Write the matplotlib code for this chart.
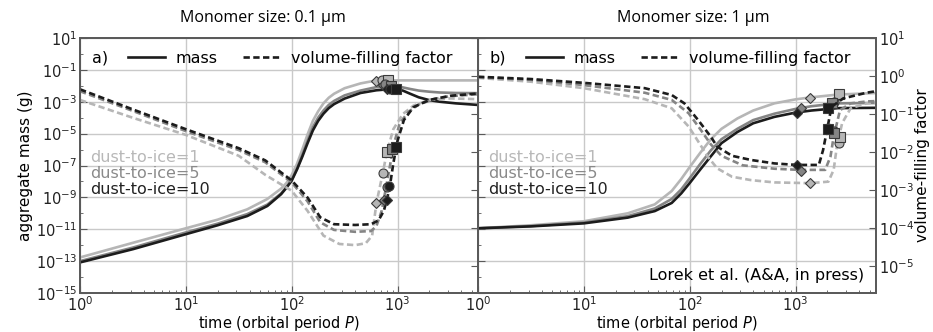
import matplotlib
matplotlib.use("Agg")
import matplotlib.pyplot as plt
import numpy as np
from matplotlib.lines import Line2D
from matplotlib.ticker import FixedLocator, NullFormatter, NullLocator

# --------------------------------------------------------------------------- #
# Data (log10 values)
# --------------------------------------------------------------------------- #
RATIOS = ["dust-to-ice=1", "dust-to-ice=5", "dust-to-ice=10"]
COLORS = ["#b6b6b6", "#858585", "#1c1c1c"]
TEXT_COLORS = ["#b8b8b8", "#8a8a8a", "#222222"]

# panel a) monomer size 0.1 um -- aggregate mass
a_mass_t = [0, 0.5, 1.0, 1.3, 1.58, 1.77, 1.9, 1.95, 2.0, 2.05, 2.1, 2.15, 2.2, 2.25,
            2.3, 2.35, 2.4, 2.5, 2.65, 2.8, 2.95, 3.05, 3.12, 3.2, 3.3, 3.4, 3.55, 3.76]
a_mass = {
    "dust-to-ice=1":  [-12.77, -11.85, -10.94, -10.4, -9.75, -9.1, -8.45, -8.1, -7.6, -6.9,
                       -6.0, -5.05, -4.2, -3.6, -3.1, -2.75, -2.5, -2.15, -1.85, -1.66,
                       -1.66, -1.66, -1.66, -1.66, -1.66, -1.66, -1.66, -1.66],
    "dust-to-ice=5":  [-13.0, -12.15, -11.2, -10.65, -10.05, -9.45, -8.75, -8.35, -7.9, -7.2,
                       -6.35, -5.45, -4.6, -4.0, -3.55, -3.2, -2.95, -2.6, -2.3, -2.08,
                       -2.03, -2.1, -2.2, -2.3, -2.37, -2.42, -2.45, -2.46],
    "dust-to-ice=10": [-13.08, -12.25, -11.31, -10.75, -10.17, -9.54, -8.8, -8.4, -7.95, -7.25,
                       -6.45, -5.6, -4.8, -4.2, -3.75, -3.4, -3.15, -2.8, -2.45, -2.28,
                       -2.2, -2.3, -2.5, -2.72, -2.9, -3.0, -3.1, -3.2],
}
# panel a) volume-filling factor
a_phi_t = {
    "dust-to-ice=1":  [0, 0.5, 1.0, 1.5, 1.75, 2.0, 2.15, 2.3, 2.45, 2.6, 2.7, 2.76, 2.8,
                       2.86, 2.9, 2.96, 3.05, 3.15, 3.3, 3.5, 3.76],
    "dust-to-ice=5":  [0, 0.5, 1.0, 1.5, 1.75, 2.0, 2.15, 2.27, 2.4, 2.6, 2.75, 2.8, 2.85,
                       2.88, 2.92, 2.96, 3.02, 3.1, 3.2, 3.35, 3.5, 3.76],
    "dust-to-ice=10": [0, 0.5, 1.0, 1.5, 1.75, 2.0, 2.15, 2.27, 2.4, 2.6, 2.75, 2.82, 2.87,
                       2.9, 2.93, 2.96, 3.0, 3.06, 3.15, 3.3, 3.5, 3.76],
}
a_phi = {
    "dust-to-ice=1":  [-0.63, -1.1, -1.55, -2.1, -2.6, -3.02, -3.55, -4.2, -4.42, -4.45, -4.4,
                       -4.2, -3.35, -2.56, -1.99, -1.4, -1.0, -0.78, -0.63, -0.59, -0.61],
    "dust-to-ice=5":  [-0.4, -0.92, -1.45, -1.95, -2.27, -2.8, -3.3, -3.85, -4.05, -4.1, -4.08,
                       -3.95, -3.55, -3.1, -2.5, -1.85, -1.25, -0.95, -0.75, -0.6, -0.53, -0.48],
    "dust-to-ice=10": [-0.35, -0.88, -1.4, -1.9, -2.22, -2.75, -3.2, -3.72, -3.9, -3.92, -3.9,
                       -3.8, -3.55, -3.25, -2.85, -2.3, -1.7, -1.16, -0.82, -0.63, -0.52, -0.46],
}

# panel b) monomer size 1 um -- aggregate mass
b_mass_t = [0, 0.5, 1.0, 1.415, 1.67, 1.83, 1.92, 2.0, 2.1, 2.2, 2.3, 2.45, 2.6, 2.8,
            3.0, 3.15, 3.4, 3.76]
b_mass = {
    "dust-to-ice=1":  [-10.94, -10.75, -10.5, -10.0, -9.44, -8.6, -7.85, -7.1, -6.2, -5.35,
                       -4.7, -4.05, -3.55, -3.1, -2.85, -2.72, -2.55, -2.45],
    "dust-to-ice=5":  [-10.94, -10.8, -10.58, -10.18, -9.7, -9.1, -8.5, -7.8, -6.9, -6.05,
                       -5.35, -4.7, -4.15, -3.75, -3.45, -3.28, -3.1, -3.08],
    "dust-to-ice=10": [-10.94, -10.82, -10.63, -10.27, -9.86, -9.35, -8.75, -8.1, -7.25, -6.42,
                       -5.6, -4.9, -4.35, -3.95, -3.68, -3.55, -3.4, -3.38],
}
# panel b) volume-filling factor
b_phi_t = {
    "dust-to-ice=1":  [0, 0.5, 1.0, 1.575, 1.83, 1.99, 2.08, 2.17, 2.26, 2.4, 2.58, 2.8, 3.14,
                       3.31, 3.36, 3.39, 3.44, 3.52, 3.67, 3.76],
    "dust-to-ice=5":  [0, 0.5, 1.0, 1.575, 1.83, 1.99, 2.1, 2.2, 2.3, 2.5, 2.8, 3.04, 3.28,
                       3.33, 3.36, 3.42, 3.52, 3.67, 3.76],
    "dust-to-ice=10": [0, 0.5, 1.0, 1.575, 1.83, 1.95, 2.08, 2.2, 2.26, 2.4, 2.58, 2.8, 3.01,
                       3.22, 3.26, 3.3, 3.34, 3.45, 3.67, 3.76],
}
b_phi = {
    "dust-to-ice=1":  [-0.05, -0.15, -0.32, -0.61, -0.85, -1.33, -1.72, -2.12, -2.43, -2.65,
                       -2.74, -2.8, -2.82, -2.78, -2.47, -1.86, -1.24, -0.85, -0.72, -0.7],
    "dust-to-ice=5":  [-0.03, -0.1, -0.24, -0.44, -0.63, -0.98, -1.4, -1.8, -2.1, -2.35,
                       -2.44, -2.47, -2.47, -2.12, -1.6, -0.9, -0.72, -0.67, -0.66],
    "dust-to-ice=10": [-0.02, -0.08, -0.18, -0.32, -0.5, -0.72, -1.16, -1.6, -1.86, -2.1,
                       -2.21, -2.3, -2.34, -2.34, -1.95, -1.38, -0.81, -0.59, -0.44, -0.4],
}

# markers (log t, log value): diamond, circle, square per dust-to-ice ratio
MARKERS = ["D", "o", "s"]
a_mark_mass_t = {"dust-to-ice=1": [2.80, 2.85, 2.91], "dust-to-ice=5": [2.86, 2.88, 2.94],
                 "dust-to-ice=10": [2.90, 2.93, 2.99]}
a_mark_mass = {"dust-to-ice=1": [-1.67, -1.66, -1.66], "dust-to-ice=5": [-1.95, -1.9, -2.0],
               "dust-to-ice=10": [-2.2, -2.22, -2.22]}
a_mark_phi_t = {"dust-to-ice=1": [2.80, 2.86, 2.90], "dust-to-ice=5": [2.87, 2.90, 2.95],
                "dust-to-ice=10": [2.90, 2.92, 2.99]}
a_mark_phi = {"dust-to-ice=1": [-3.35, -2.56, -1.99], "dust-to-ice=5": [-3.26, -2.91, -1.93],
              "dust-to-ice=10": [-3.25, -2.89, -1.88]}
b_mark_mass_t = {"dust-to-ice=1": [3.14, 3.41, 3.41], "dust-to-ice=5": [3.05, 3.36, 3.34],
                 "dust-to-ice=10": [3.01, 3.31, 3.31]}
b_mark_mass = {"dust-to-ice=1": [-2.77, -2.55, -2.5], "dust-to-ice=5": [-3.4, -3.04, -3.08],
               "dust-to-ice=10": [-3.7, -3.4, -3.4]}
b_mark_phi_t = {"dust-to-ice=1": [3.14, 3.41, 3.42], "dust-to-ice=5": [3.05, 3.36, 3.36],
                "dust-to-ice=10": [3.01, 3.31, 3.31]}
b_mark_phi = {"dust-to-ice=1": [-2.82, -1.77, -1.6], "dust-to-ice=5": [-2.49, -1.45, -1.5],
              "dust-to-ice=10": [-2.34, -1.38, -1.4]}

MASS_TICKS = list(range(1, -16, -2))
PHI_TICKS = list(range(1, -6, -1))
XMAX_LOG = 3.76
PHI_MIN_LOG = -5.71

plt.rcParams["font.family"] = ["DejaVu Sans"]
plt.rcParams["mathtext.fontset"] = "dejavusans"

fig = plt.figure(figsize=(9.33, 3.32), dpi=100)
ax_a = fig.add_axes([80 / 933, 1 - 293 / 332, 398 / 933, 255 / 332])
ax_b = fig.add_axes([478 / 933, 1 - 293 / 332, 398 / 933, 255 / 332])

SPINE = "#5a5a5a"
DASH = (0, (2.4, 1.3))


def style_axes(ax, phi_ax, show_mass_labels, show_phi_labels, tag, mass, mass_t, phi_t, phi,
               mt, mv, pt, pv):
    ax.set_xscale("log")
    ax.set_yscale("log")
    phi_ax.set_yscale("log")
    ax.set_xlim(1, 10 ** XMAX_LOG)
    ax.set_ylim(1e-15, 1e1)
    phi_ax.set_ylim(10 ** PHI_MIN_LOG, 1e1)

    ax.yaxis.set_major_locator(FixedLocator([10.0 ** e for e in MASS_TICKS]))
    ax.yaxis.set_minor_locator(FixedLocator([10.0 ** e for e in range(0, -15, -2)]))
    ax.yaxis.set_minor_formatter(NullFormatter())
    phi_ax.yaxis.set_major_locator(FixedLocator([10.0 ** e for e in PHI_TICKS]))
    phi_ax.yaxis.set_minor_locator(NullLocator())
    ax.xaxis.set_major_locator(FixedLocator([1, 10, 100, 1000]))

    if not show_mass_labels:
        ax.yaxis.set_major_formatter(NullFormatter())
    if not show_phi_labels:
        phi_ax.yaxis.set_major_formatter(NullFormatter())

    ax.grid(True, which="major", color="#c9c9c9", linewidth=1.0)
    for a in (ax, phi_ax):
        for s in a.spines.values():
            s.set_color(SPINE)
            s.set_linewidth(1.3)
        a.tick_params(which="both", direction="in", colors=SPINE, labelcolor="#222222",
                      labelsize=10.5, pad=2)
        a.tick_params(which="major", length=5)
        a.tick_params(which="minor", length=2.5)
    ax.tick_params(axis="x", pad=1.5)

    for name, c in zip(RATIOS, COLORS):
        ax.plot(10 ** np.array(mass_t), 10 ** np.array(mass[name]), color=c, lw=1.9,
                solid_capstyle="round", solid_joinstyle="round")
        phi_ax.plot(10 ** np.array(phi_t[name]), 10 ** np.array(phi[name]), color=c, lw=1.9,
                    ls=DASH)
    for name, c in zip(RATIOS, COLORS):
        for m, x, y in zip(MARKERS, mt[name], mv[name]):
            ax.plot(10 ** x, 10 ** y, marker=m, ms=6.5 if m != "D" else 5.5, color=c,
                    mec="#3a3a3a", mew=0.8, zorder=5)
        for m, x, y in zip(MARKERS, pt[name], pv[name]):
            phi_ax.plot(10 ** x, 10 ** y, marker=m, ms=6.5 if m != "D" else 5.5, color=c,
                        mec="#3a3a3a", mew=0.8, zorder=5)

    ax.set_xlabel("time (orbital period $P$)", fontsize=10.5, labelpad=0)

    ax.text(0.03, 0.92, tag, transform=ax.transAxes, fontsize=11.5, va="center")
    handles = [Line2D([], [], color="#1c1c1c", lw=1.9),
               Line2D([], [], color="#1c1c1c", lw=1.9, ls=DASH)]
    phi_ax.legend(handles, ["mass", "volume-filling factor"], loc="center left",
                  bbox_to_anchor=(0.1, 0.92), ncol=2, frameon=False, fontsize=11.5,
                  handlelength=2.3, columnspacing=1.6, handletextpad=0.7, borderpad=0)
    for i, (name, c) in enumerate(zip(RATIOS, TEXT_COLORS)):
        ax.text(0.025, 0.53 - i * 0.062, name, transform=ax.transAxes, color=c,
                fontsize=11.5, va="center")


ax_a2 = ax_a.twinx()
ax_b2 = ax_b.twinx()
style_axes(ax_a, ax_a2, True, False, "a)", a_mass, a_mass_t, a_phi_t, a_phi,
           a_mark_mass_t, a_mark_mass, a_mark_phi_t, a_mark_phi)
style_axes(ax_b, ax_b2, False, True, "b)", b_mass, b_mass_t, b_phi_t, b_phi,
           b_mark_mass_t, b_mark_mass, b_mark_phi_t, b_mark_phi)

ax_a.set_ylabel("aggregate mass (g)", fontsize=11, labelpad=2)
ax_b2.set_ylabel("volume-filling factor", fontsize=11, labelpad=1)

ax_b.text(0.97, 0.07, "Lorek et al. (A&A, in press)", transform=ax_b.transAxes,
          ha="right", va="center", fontsize=11.5)

fig.text(263 / 933, 1 - 18 / 332, "Monomer size: 0.1 μm", ha="center", va="center",
         fontsize=11.5, family=["Open Sans", "DejaVu Sans"])
fig.text(693 / 933, 1 - 18 / 332, "Monomer size: 1 μm", ha="center", va="center",
         fontsize=11.5, family=["Open Sans", "DejaVu Sans"])

fig.savefig("out.png", dpi=100)
